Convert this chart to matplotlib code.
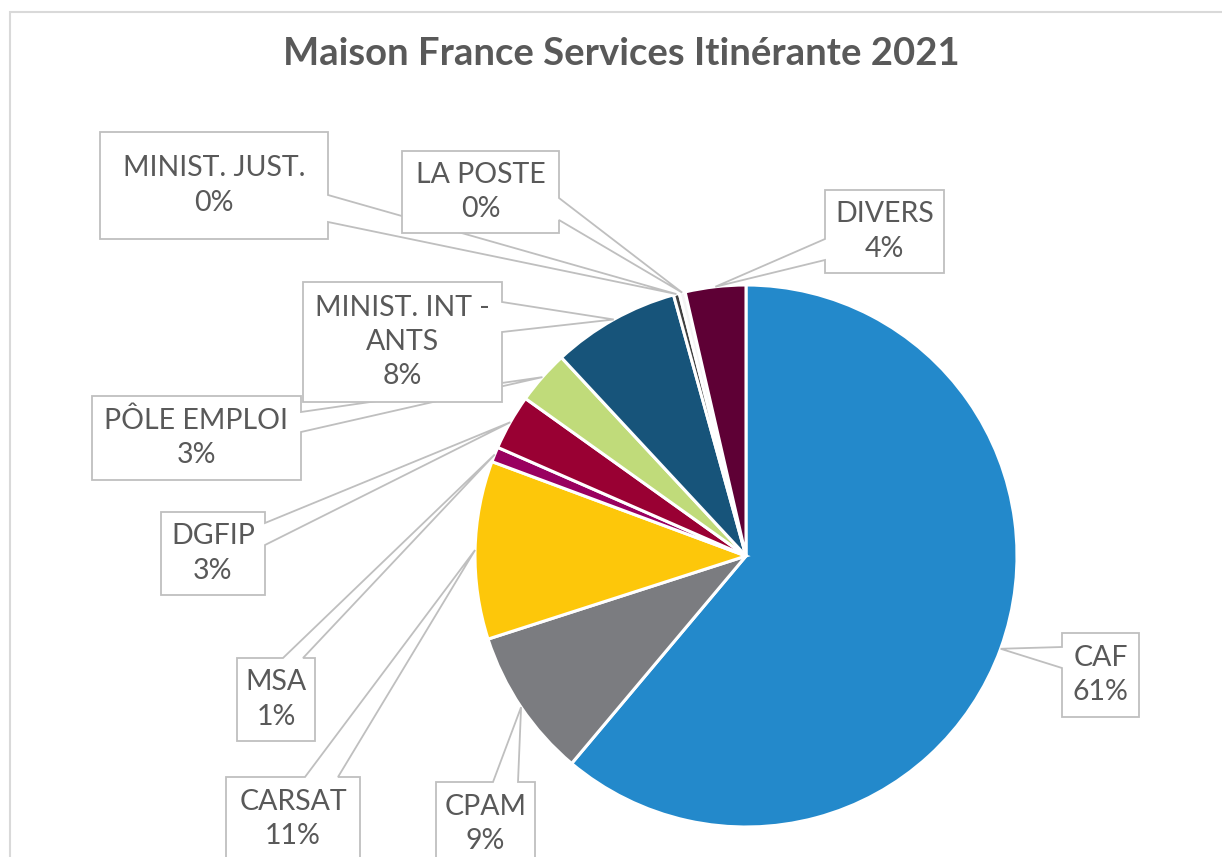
import matplotlib
matplotlib.use("Agg")
import matplotlib.pyplot as plt
from matplotlib.patches import Polygon, Rectangle
import numpy as np

W, H = 1222, 857

# data (share of requests, %)
labels = ["CAF", "CPAM", "CARSAT", "MSA", "DGFIP", "PÔLE EMPLOI",
          "MINIST. INT -\nANTS", "MINIST. JUST.", "LA POSTE", "DIVERS"]
values = [61.0, 8.9, 10.6, 0.9, 3.3, 3.2, 7.6, 0.35, 0.35, 3.6]
colors = ["#2389CB", "#7B7C80", "#FDC70A", "#990060", "#990033", "#C0DB7A",
          "#17547A", "#404040", "#F4F4F4", "#5E0035"]

# callout layout in pixels (left, top, right, bottom), side of the pointer, pointer base
boxes = [
    (1062, 633, 1139, 717, "left", 647, 668),
    (436, 782, 535, 866, "top", 493, 518),
    (226, 777, 360, 861, "top", 305, 338),
    (237, 658, 315, 741, "top", 283, 303),
    (161, 512, 265, 595, "right", 523, 545),
    (92, 396, 301, 480, "right", 412, 432),
    (303, 282, 502, 402, "right", 302, 332),
    (100, 132, 328, 239, "right", 195, 222),
    (402, 151, 559, 233, "right", 198, 220),
    (825, 190, 944, 273, "left", 239, 260),
]

txt = "#595959"
edge = "#BFBFBF"
fam = ["Lato", "DejaVu Sans"]

fig = plt.figure(figsize=(W / 100, H / 100), dpi=100)
ax = fig.add_axes([0, 0, 1, 1])

cx, cy, r = 746, H - 556, 271
wedges, _ = ax.pie(values, colors=colors, startangle=90, counterclock=False,
                   center=(cx, cy), radius=r,
                   wedgeprops=dict(edgecolor="white", linewidth=2.2))
ax.set_xlim(0, W)
ax.set_ylim(0, H)
ax.set_aspect("equal")
ax.axis("off")

total = sum(values)
for i, w in enumerate(wedges):
    mid = np.deg2rad((w.theta1 + w.theta2) / 2)
    tip = (cx + r * np.cos(mid), cy + r * np.sin(mid))
    x0, t, x1, b, side, b1, b2 = boxes[i]
    y0, y1 = H - t, H - b
    if side == "left":
        pts = [(x0, y0), (x1, y0), (x1, y1), (x0, y1), (x0, H - b2), tip, (x0, H - b1)]
    elif side == "right":
        pts = [(x0, y0), (x1, y0), (x1, H - b1), tip, (x1, H - b2), (x1, y1), (x0, y1)]
    else:
        pts = [(x0, y0), (b1, y0), tip, (b2, y0), (x1, y0), (x1, y1), (x0, y1)]
    ax.add_patch(Polygon(pts, closed=True, facecolor="white", edgecolor=edge,
                         linewidth=1.3, zorder=5 + i))
    pct = round(values[i] / total * 100)
    ax.text((x0 + x1) / 2, H - (t + b) / 2, f"{labels[i]}\n{pct}%",
            ha="center", va="center", fontsize=20.5, color=txt, family=fam,
            linespacing=1.4, zorder=20)

ax.add_patch(Rectangle((10, -50), W + 50, H - 12 + 50, fill=False,
                       edgecolor="#D9D9D9", linewidth=1.5, zorder=1))

ax.text(621, H - 54, "Maison France Services Itinérante 2021", ha="center",
        va="center", fontsize=27.5, fontweight="bold", color=txt, family=fam)

fig.savefig("out.png", dpi=100)
